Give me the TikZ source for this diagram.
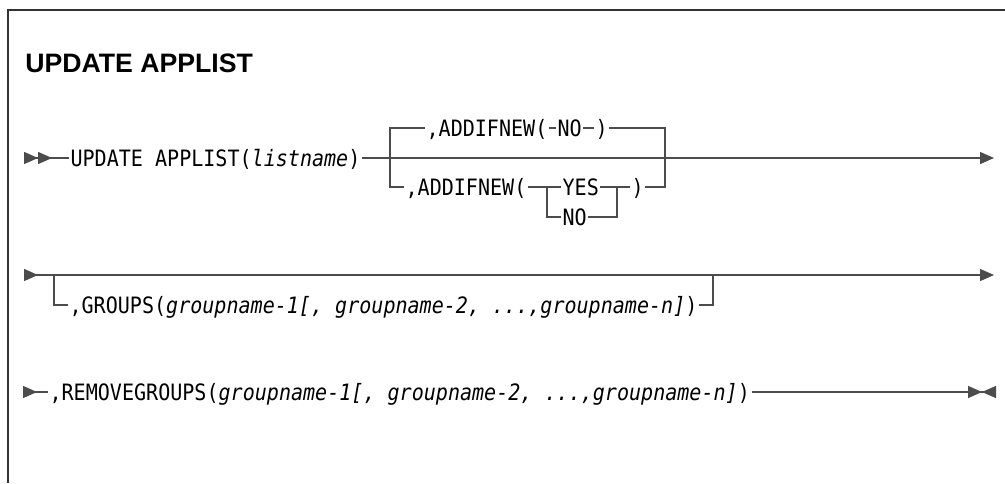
\documentclass[tikz,border=0pt]{standalone}
\usepackage{fontspec}
\setmonofont[FakeStretch=0.89]{DejaVu Sans Mono}
\newfontfamily\headfont{Liberation Sans}
\usetikzlibrary{arrows.meta}

\begin{document}
\begin{tikzpicture}[x=0.75pt, y=-0.75pt,
    rail/.style={line width=1pt, draw=black!70},
    kw/.style={anchor=west, inner xsep=1pt, inner ysep=0pt,
      text height=12.3pt, text depth=0pt,
      font=\fontsize{16.9pt}{20pt}\selectfont\ttfamily},
    tri/.tip={Triangle[length=10.5pt, width=9pt]},
    rtri/.tip={Triangle[length=10.5pt, width=9pt, reversed]}]
  \useasboundingbox (0,0) rectangle (1005,483);

  % Frame and title
  \draw[line width=1pt, black!80] (8,483) -- (8,10) -- (1005,10);
  \node[anchor=base west, inner sep=0pt,
    font=\headfont\bfseries\fontsize{20pt}{24pt}\selectfont] (title) at (25,72) {UPDATE APPLIST};

  % Row 1 points
  \coordinate (s1) at (24,158);
  \coordinate (b1l) at (390,158);
  \coordinate (b1r) at (665,158);
  \coordinate (e1) at (994,158);
  \coordinate (j2l) at (547,187);
  \coordinate (j2r) at (617,187);

  % Row 1 words
  \node[kw] (upd) at (69,158) {UPDATE APPLIST(\textit{listname})};
  \node[kw] (an1) at (425,128) {,ADDIFNEW(};
  \node[kw] (no1) at (556,128) {NO};
  \node[kw] (cp1) at (594,128) {)};
  \node[kw] (an2) at (404,187) {,ADDIFNEW(};
  \node[kw] (yes) at (561,187) {YES};
  \node[kw] (no2) at (561,217) {NO};
  \node[kw] (cp2) at (630,187) {)};

  % Row 1 rails
  \draw[rail, {rtri[]rtri[]}-] (s1) -- (upd.west);
  \draw[rail, -{tri[]}] (upd.east) -- (e1);
  \draw[rail] (b1l) |- (an1.west);
  \draw[rail] (an1.east) -- (no1.west);
  \draw[rail] (no1.east) -- (cp1.west);
  \draw[rail] (cp1.east) -| (b1r);
  \draw[rail] (b1l) |- (an2.west);
  \draw[rail] (an2.east) -- (yes.west);
  \draw[rail] (j2l) |- (no2.west);
  \draw[rail] (yes.east) -- (cp2.west);
  \draw[rail] (no2.east) -| (j2r);
  \draw[rail] (cp2.east) -| (b1r);

  % Row 2
  \coordinate (s2) at (24,275);
  \coordinate (b2l) at (54,275);
  \coordinate (b2r) at (713,275);
  \coordinate (e2) at (994,275);
  \node[kw] (grp) at (68,305) {,GROUPS(\textit{groupname-1[, groupname-2, ...,groupname-n]})};
  \draw[rail, {rtri[]}-{tri[]}] (s2) -- (e2);
  \draw[rail] (b2l) |- (grp.west);
  \draw[rail] (grp.east) -| (b2r);

  % Row 3
  \coordinate (s3) at (23,392);
  \coordinate (e3) at (996,392);
  \node[kw] (rem) at (48,392) {,REMOVEGROUPS(\textit{groupname-1[, groupname-2, ...,groupname-n]})};
  \draw[rail, {rtri[]}-] (s3) -- (rem.west);
  \draw[rail, -{tri[]rtri[]}] (rem.east) -- (e3);
\end{tikzpicture}
\end{document}
